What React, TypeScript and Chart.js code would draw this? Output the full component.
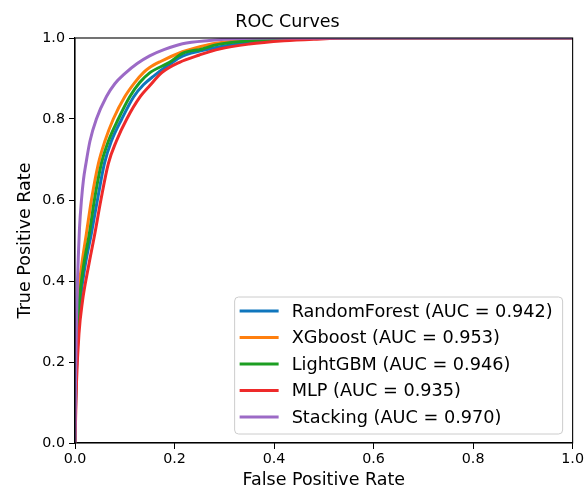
import React, { useEffect, useRef } from "react";
import { Chart, registerables } from "chart.js";

Chart.register(...registerables);

const FONT = "'DejaVu Sans', sans-serif";

const chartTitle = "ROC Curves";
const xLabel = "False Positive Rate";
const yLabel = "True Positive Rate";
const tickValues = [0, 0.2, 0.4, 0.6, 0.8, 1.0];
const tickLabels = ["0.0", "0.2", "0.4", "0.6", "0.8", "1.0"];

const modelNames = [
  "RandomForest (AUC = 0.942)",
  "XGboost (AUC = 0.953)",
  "LightGBM (AUC = 0.946)",
  "MLP (AUC = 0.935)",
  "Stacking (AUC = 0.970)",
];
const modelColors = ["#0f76bd", "#ff7f0e", "#1c9e22", "#ee2a2a", "#9c6ac6"];

const rfFpr = [0, 0.001, 0.003, 0.007, 0.011, 0.02, 0.033, 0.045, 0.059, 0.073, 0.094, 0.118, 0.138, 0.158, 0.19, 0.216, 0.27, 0.3, 0.36, 0.44, 0.52, 1];
const rfTpr = [0, 0.08, 0.18, 0.28, 0.353, 0.435, 0.518, 0.6, 0.69, 0.745, 0.8, 0.855, 0.885, 0.906, 0.935, 0.955, 0.973, 0.98, 0.99, 0.997, 1, 1];

const xgbFpr = [0, 0.001, 0.003, 0.005, 0.007, 0.013, 0.023, 0.033, 0.047, 0.06, 0.077, 0.1, 0.12, 0.138, 0.15, 0.172, 0.216, 0.24, 0.283, 0.35, 0.42, 0.5, 1];
const xgbTpr = [0, 0.12, 0.24, 0.32, 0.37, 0.435, 0.518, 0.6, 0.69, 0.745, 0.8, 0.855, 0.89, 0.915, 0.927, 0.942, 0.966, 0.975, 0.987, 0.995, 0.999, 1, 1];

const lgbFpr = [0, 0.001, 0.003, 0.006, 0.009, 0.017, 0.029, 0.039, 0.053, 0.067, 0.087, 0.11, 0.13, 0.15, 0.19, 0.216, 0.256, 0.283, 0.35, 0.42, 0.5, 1];
const lgbTpr = [0, 0.1, 0.2, 0.29, 0.353, 0.435, 0.518, 0.6, 0.69, 0.745, 0.8, 0.855, 0.89, 0.914, 0.94, 0.962, 0.973, 0.983, 0.993, 0.998, 1, 1];

const mlpFpr = [0, 0.001, 0.003, 0.008, 0.015, 0.027, 0.04, 0.052, 0.067, 0.083, 0.104, 0.131, 0.15, 0.175, 0.21, 0.25, 0.29, 0.35, 0.42, 0.48, 0.55, 1];
const mlpTpr = [0, 0.05, 0.15, 0.27, 0.35, 0.435, 0.518, 0.6, 0.69, 0.745, 0.8, 0.855, 0.882, 0.915, 0.94, 0.958, 0.973, 0.985, 0.993, 0.997, 1, 1];

const stackFpr = [0, 0.001, 0.003, 0.005, 0.007, 0.009, 0.013, 0.017, 0.022, 0.03, 0.043, 0.063, 0.08, 0.1, 0.125, 0.15, 0.18, 0.216, 0.27, 0.32, 0.4, 1];
const stackTpr = [0, 0.15, 0.3, 0.4, 0.47, 0.53, 0.6, 0.65, 0.69, 0.745, 0.8, 0.855, 0.887, 0.912, 0.937, 0.956, 0.972, 0.986, 0.994, 0.998, 1, 1];

const fprSeries = [rfFpr, xgbFpr, lgbFpr, mlpFpr, stackFpr];
const tprSeries = [rfTpr, xgbTpr, lgbTpr, mlpTpr, stackTpr];

const framePlugin = {
  id: "frameAndLegend",
  afterDatasetsDraw(chart: any) {
    const { ctx, chartArea } = chart;
    ctx.save();
    ctx.strokeStyle = "#000";
    ctx.lineWidth = 1.1;
    ctx.strokeRect(chartArea.left, chartArea.top, chartArea.right - chartArea.left, chartArea.bottom - chartArea.top);
    ctx.restore();
  },
  afterDraw(chart: any) {
    const { ctx, chartArea } = chart;
    const ds = chart.data.datasets;
    const boxRight = chartArea.right - 10;
    const boxBottom = chartArea.bottom - 9;
    const boxW = 328;
    const rowH = 26.5;
    const boxH = 137;
    const boxLeft = boxRight - boxW;
    const boxTop = boxBottom - boxH;
    ctx.save();
    ctx.beginPath();
    const r = 4;
    ctx.moveTo(boxLeft + r, boxTop);
    ctx.arcTo(boxRight, boxTop, boxRight, boxBottom, r);
    ctx.arcTo(boxRight, boxBottom, boxLeft, boxBottom, r);
    ctx.arcTo(boxLeft, boxBottom, boxLeft, boxTop, r);
    ctx.arcTo(boxLeft, boxTop, boxRight, boxTop, r);
    ctx.closePath();
    ctx.fillStyle = "rgba(255,255,255,0.85)";
    ctx.fill();
    ctx.strokeStyle = "#cccccc";
    ctx.lineWidth = 1;
    ctx.stroke();
    ctx.font = `17.7px ${FONT}`;
    ctx.textBaseline = "middle";
    ctx.textAlign = "left";
    const firstY = boxTop + 14;
    ds.forEach((d: any, i: number) => {
      const y = firstY + i * rowH;
      ctx.strokeStyle = d.borderColor;
      ctx.lineWidth = 3;
      ctx.beginPath();
      ctx.moveTo(boxLeft + 5, y);
      ctx.lineTo(boxLeft + 44, y);
      ctx.stroke();
      ctx.fillStyle = "#000";
      ctx.fillText(d.label, boxLeft + 57, y + 1);
    });
    ctx.restore();
  },
};

export default function App() {
  const ref = useRef<HTMLCanvasElement | null>(null);
  useEffect(() => {
    if (!ref.current) return;
    const datasets = modelNames.map((name, i) => ({
      label: name,
      data: fprSeries[i].map((x, j) => ({ x, y: tprSeries[i][j] })),
      borderColor: modelColors[i],
      backgroundColor: modelColors[i],
      borderWidth: 3,
      pointRadius: 0,
      cubicInterpolationMode: "monotone",
      fill: false,
      order: modelNames.length - i,
    }));
    const tickFont = { family: FONT, size: 14.3 };
    const chart = new Chart(ref.current, {
      type: "line",
      data: { datasets },
      plugins: [framePlugin],
      options: {
        animation: false,
        responsive: false,
        events: [],
        layout: { padding: { left: 0, right: 11, top: 0, bottom: 0 } },
        plugins: {
          legend: { display: false },
          tooltip: { enabled: false },
          title: {
            display: true,
            text: chartTitle,
            color: "#000",
            font: { family: FONT, size: 17.5, weight: "normal" },
            padding: { top: 12, bottom: 5 },
          },
        },
        scales: {
          x: {
            type: "linear",
            min: 0,
            max: 1,
            afterBuildTicks: (s: any) => {
              s.ticks = tickValues.map((v) => ({ value: v }));
            },
            afterFit: (s: any) => {
              s.height = 47;
            },
            ticks: {
              color: "#000",
              font: tickFont,
              padding: 2,
              maxRotation: 0,
              callback: (_v: any, i: number) => tickLabels[i],
            },
            grid: { drawOnChartArea: false, drawTicks: true, tickLength: 6, color: "#000", lineWidth: 1 },
            border: { display: true, color: "#000", width: 1.1 },
            title: {
              display: true,
              text: xLabel,
              color: "#000",
              font: { family: FONT, size: 17.5 },
              padding: { top: 0, bottom: -1 },
            },
          },
          y: {
            type: "linear",
            min: 0,
            max: 1,
            afterBuildTicks: (s: any) => {
              s.ticks = tickValues.map((v) => ({ value: v }));
            },
            afterFit: (s: any) => {
              s.width = 75;
            },
            ticks: {
              color: "#000",
              font: tickFont,
              padding: 4,
              callback: (_v: any, i: number) => tickLabels[i],
            },
            grid: { drawOnChartArea: false, drawTicks: true, tickLength: 6, color: "#000", lineWidth: 1 },
            border: { display: true, color: "#000", width: 1.1 },
            title: {
              display: true,
              text: yLabel,
              color: "#000",
              font: { family: FONT, size: 17.5 },
              padding: { top: 14.5, bottom: 0 },
            },
          },
        },
      } as any,
    });
    return () => chart.destroy();
  }, []);
  return (
    <div style={{ position: "absolute", left: 0, top: 0, width: 586, height: 490, background: "#fff" }}>
      <canvas ref={ref} width={586} height={490} style={{ display: "block" }} />
    </div>
  );
}
